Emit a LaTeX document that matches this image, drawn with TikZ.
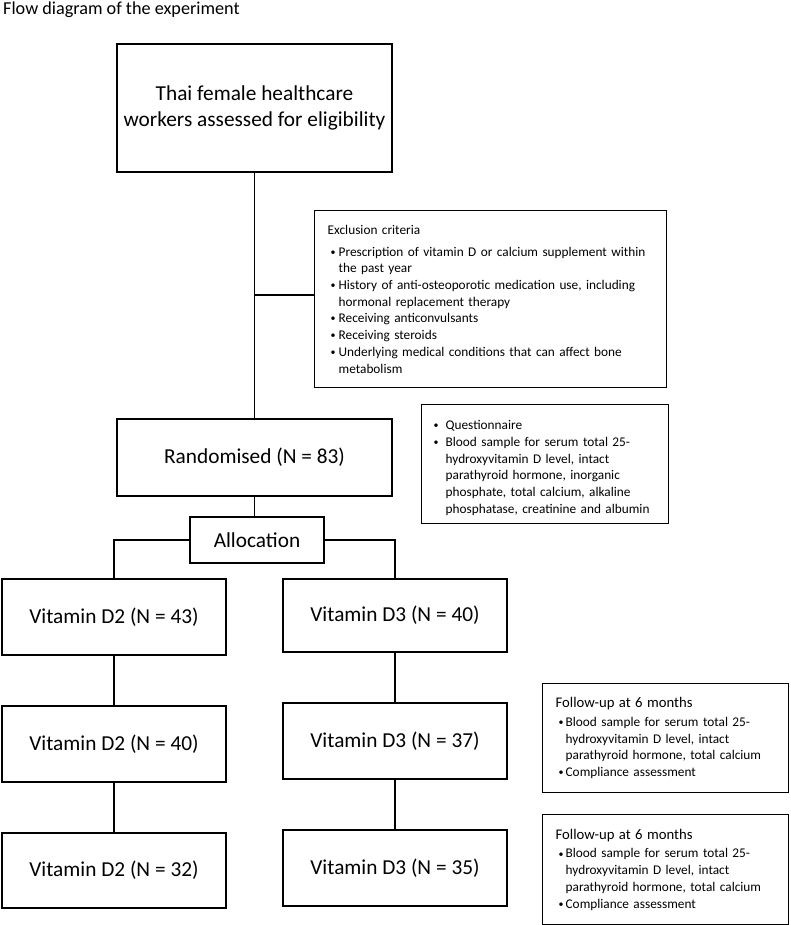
\documentclass[tikz,border=0pt]{standalone}
\usepackage{fontspec}
\usepackage{graphicx}
\setmainfont{Carlito}
\newcommand\smallbul{\raisebox{0.15ex}{\scalebox{0.75}{\textbullet}}}
\newcommand\bitem[3]{\par\noindent\hangindent=#2\hangafter=1\makebox[#2][l]{\hspace{#1}\smallbul}#3\par}
\tikzset{
  line/.style={line width=1.3pt},
  bigbox/.style={draw, line width=1.3pt, rectangle, inner sep=0pt, align=center,
     font=\fontsize{21.3}{26}\selectfont},
  listbox/.style={draw, line width=1.3pt, rectangle, anchor=north west, inner ysep=0pt,
     font=\fontsize{13.3}{16.7}\selectfont, align=left},
}
\begin{document}
\begin{tikzpicture}[x=1pt,y=-1pt]
\useasboundingbox (0,0) rectangle (790,925);
\node[anchor=base west, inner sep=0pt, font=\fontsize{18.2}{22}\selectfont] (title) at (3,15) {Flow diagram of the experiment};

\node[bigbox, minimum width=275, minimum height=128] (top) at (254.5,108) {Thai female healthcare\\workers assessed for eligibility};

\node[listbox, minimum height=177, inner xsep=13pt, text width=326pt] (excl) at (314,210) {%
Exclusion criteria\par\vspace{5pt}
\bitem{3pt}{11pt}{Prescription of vitamin D or calcium supplement within\newline the past year}
\bitem{3pt}{11pt}{History of anti-osteoporotic medication use, including\newline hormonal replacement therapy}
\bitem{3pt}{11pt}{Receiving anticonvulsants}
\bitem{3pt}{11pt}{Receiving steroids}
\bitem{3pt}{11pt}{Underlying medical conditions that can affect bone\newline metabolism}\vspace{4pt}};

\node[bigbox, minimum width=275, minimum height=77] (rand) at (254.5,457.5) {Randomised (N = 83)};

\node[listbox, minimum height=119, inner xsep=12pt, text width=223pt] (quest) at (421,404) {%
\bitem{0pt}{12pt}{Questionnaire}
\bitem{0pt}{12pt}{Blood sample for serum total 25-\newline hydroxyvitamin D level, intact\newline parathyroid hormone, inorganic\newline phosphate, total calcium, alkaline\newline phosphatase, creatinine and albumin}};

\node[bigbox, minimum width=134, minimum height=46] (alloc) at (257,540) {Allocation};

\node[bigbox, minimum width=224, minimum height=76] (d2a) at (114,617) {Vitamin D2 (N = 43)};
\node[bigbox, minimum width=224, minimum height=73] (d3a) at (395,615.5) {Vitamin D3 (N = 40)};
\node[bigbox, minimum width=224, minimum height=76] (d2b) at (114,744) {Vitamin D2 (N = 40)};
\node[bigbox, minimum width=224, minimum height=76] (d3b) at (395,741) {Vitamin D3 (N = 37)};
\node[bigbox, minimum width=224, minimum height=75] (d2c) at (114,870.5) {Vitamin D2 (N = 32)};
\node[bigbox, minimum width=224, minimum height=76] (d3c) at (395,868) {Vitamin D3 (N = 35)};

\node[listbox, minimum height=109, inner xsep=13pt, text width=220pt] (fu1) at (542,683) {%
{\fontsize{14.7}{18}\selectfont Follow-up at 6 months}\par\vspace{2pt}
\bitem{3pt}{10pt}{Blood sample for serum total 25-\newline hydroxyvitamin D level, intact\newline parathyroid hormone, total calcium}
\bitem{3pt}{10pt}{Compliance assessment}};
\node[listbox, minimum height=110, inner xsep=13pt, text width=220pt] (fu2) at (542,814) {%
{\fontsize{14.7}{18}\selectfont Follow-up at 6 months}\par\vspace{2pt}
\bitem{3pt}{10pt}{Blood sample for serum total 25-\newline hydroxyvitamin D level, intact\newline parathyroid hormone, total calcium}
\bitem{3pt}{10pt}{Compliance assessment}};

\draw[line] (top.south) -- (rand.north);
\coordinate (br) at (254.5,295);
\draw[line] (br) -- (br -| excl.west);
\draw[line] (rand.south) -- (rand.south |- alloc.north);
\draw[line] (alloc.west) -| (d2a.north);
\draw[line] (alloc.east) -| (d3a.north);
\draw[line] (d2a.south) -- (d2b.north);
\draw[line] (d2b.south) -- (d2c.north);
\draw[line] (d3a.south) -- (d3b.north);
\draw[line] (d3b.south) -- (d3c.north);
\end{tikzpicture}
\end{document}
